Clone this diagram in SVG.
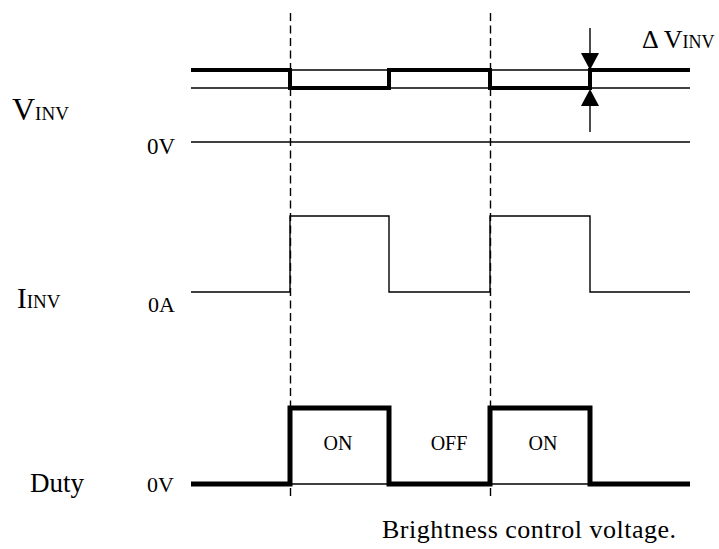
<svg xmlns="http://www.w3.org/2000/svg" width="719" height="549" viewBox="0 0 719 549">
<defs>
<style>
.t{font-family:"Liberation Serif","Times New Roman",serif;fill:#000}
.thin{stroke:#000;stroke-width:1.4;fill:none}
.thick{stroke:#000;stroke-width:4;fill:none;stroke-linejoin:miter}
.duty{stroke:#000;stroke-width:5;fill:none;stroke-linejoin:miter}
.dash{stroke:#000;stroke-width:1.4;stroke-dasharray:8 4.5;fill:none}
</style>
</defs>
<rect width="719" height="549" fill="#fff"/>
<g id="labels">
<text class="t" x="12" y="120" font-size="32">V<tspan font-size="19">INV</tspan></text>
<text class="t" x="147" y="154" font-size="23">0V</text>
<text class="t" x="17" y="308" font-size="29">I<tspan font-size="19">INV</tspan></text>
<text class="t" x="148" y="312" font-size="22">0A</text>
<text class="t" x="30" y="492" font-size="27">Duty</text>
<text class="t" x="147" y="492" font-size="22">0V</text>
<text class="t" x="642" y="48" font-size="26">Δ V<tspan font-size="18">INV</tspan></text>
<text class="t" x="338" y="450" font-size="20" text-anchor="middle">ON</text>
<text class="t" x="449" y="450" font-size="20" text-anchor="middle">OFF</text>
<text class="t" x="543" y="450" font-size="20" text-anchor="middle">ON</text>
<text class="t" x="382" y="538" font-size="26" textLength="294">Brightness control voltage.</text>
</g>
<g id="connectors">
<line class="dash" x1="290.5" y1="13" x2="290.5" y2="500"/>
<line class="dash" x1="490.5" y1="13" x2="490.5" y2="500"/>
</g>
<g id="vinv">
<line class="thin" x1="191" y1="70" x2="690" y2="70"/>
<line class="thin" x1="191" y1="88" x2="690" y2="88"/>
<line class="thin" x1="191" y1="142" x2="690" y2="142"/>
<polyline class="thick" points="191,70 290,70 290,88 389,88 389,70 490,70 490,88 590,88 590,70 690,70"/>
</g>
<g id="delta-arrows">
<line class="thin" x1="590" y1="28" x2="590" y2="55"/>
<polygon points="581,53 599,53 590,70" fill="#000"/>
<line class="thin" x1="590" y1="105" x2="590" y2="132"/>
<polygon points="581,106 599,106 590,89" fill="#000"/>
</g>
<g id="iinv">
<polyline class="thin" stroke-width="1.6" points="191,292 290,292 290,216 389,216 389,292 490,292 490,216 590,216 590,292 690,292"/>
</g>
<g id="duty">
<line class="thin" x1="290" y1="484" x2="590" y2="484" stroke="#555"/>
<polyline class="duty" points="191,484 290,484 290,408 389,408 389,484 490,484 490,408 590,408 590,484 690,484"/>
</g>
</svg>
